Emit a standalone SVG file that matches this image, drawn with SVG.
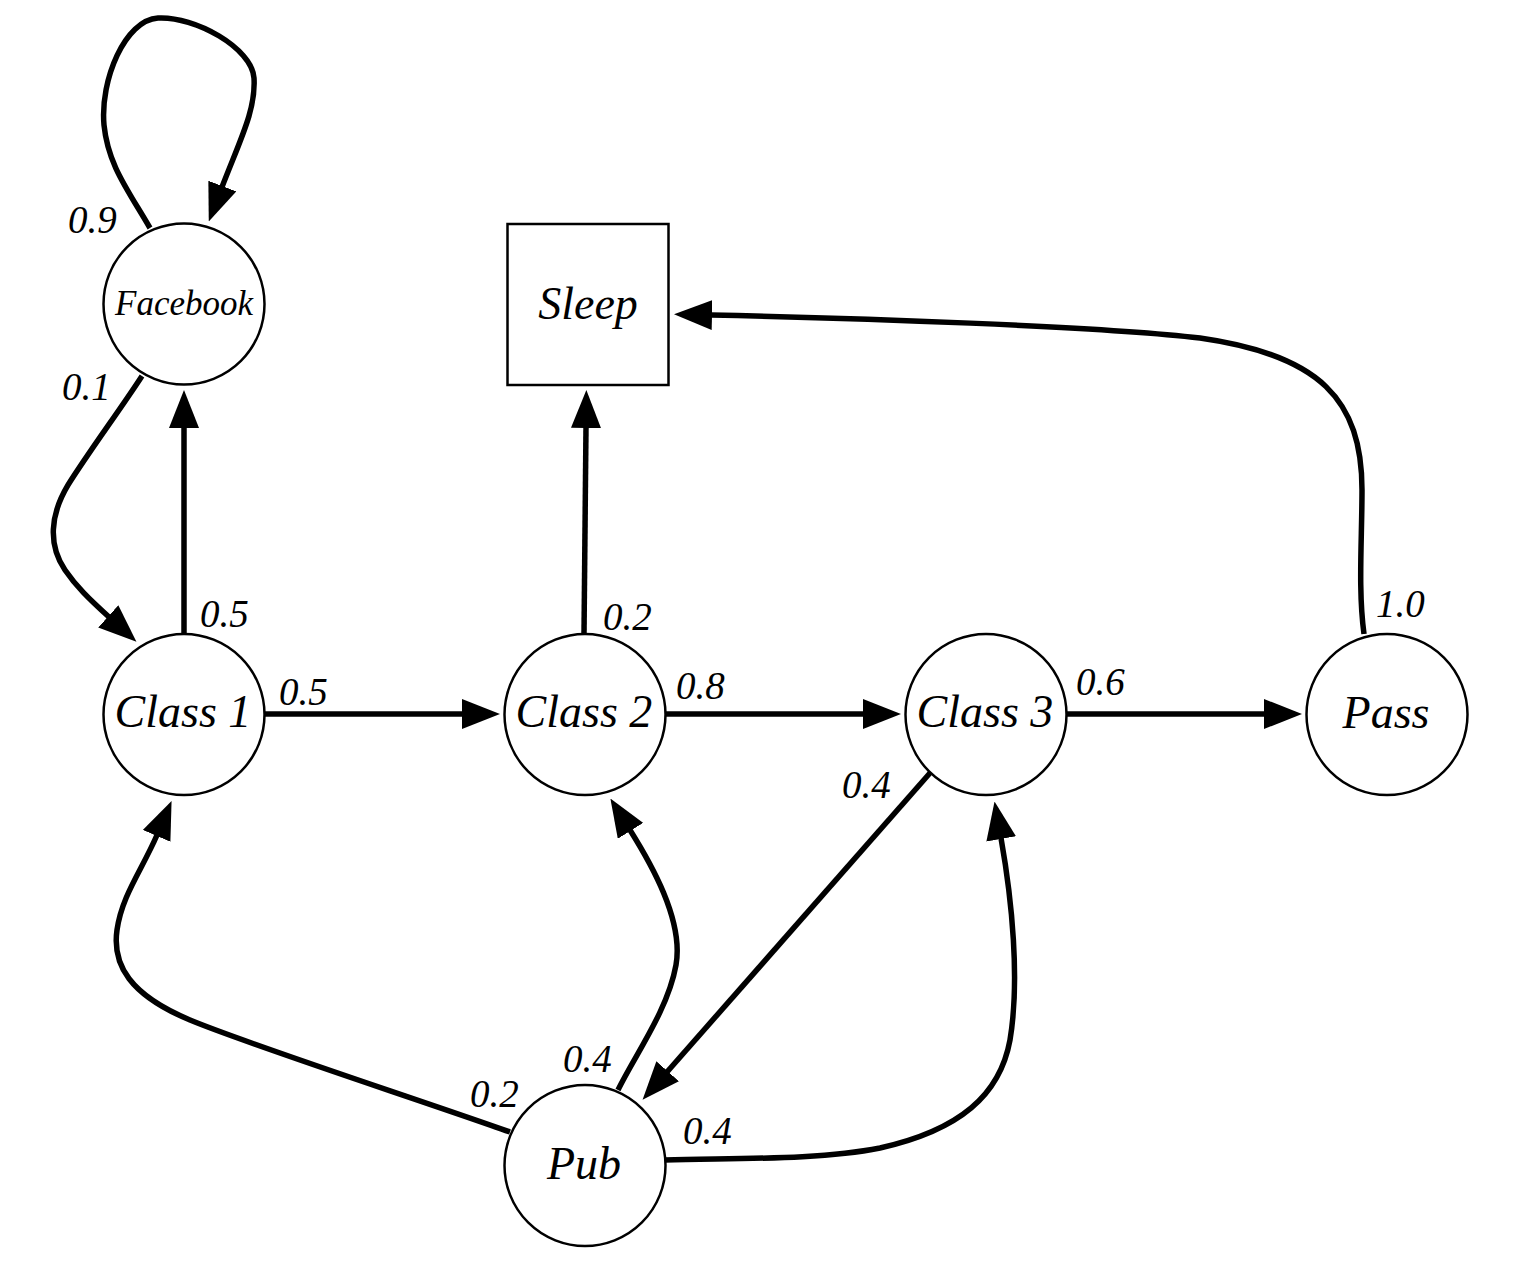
<svg xmlns="http://www.w3.org/2000/svg" width="1538" height="1280" viewBox="0 0 1538 1280">
<style>
.node{fill:#fff;stroke:#000;stroke-width:2.5}
.lbl{font-family:'Liberation Serif','DejaVu Serif',serif;font-style:italic;font-size:46px;text-anchor:middle;fill:#000}
.edge{fill:none;stroke:#000;stroke-width:5.5;marker-end:url(#ah)}
.el{font-family:'Liberation Serif','DejaVu Serif',serif;font-style:italic;font-size:39px;fill:#000}
</style>
<defs>
<marker id="ah" markerUnits="userSpaceOnUse" viewBox="0 0 38 30" markerWidth="38" markerHeight="30" refX="1" refY="15" orient="auto">
<path d="M0,0 L38,15 L0,30 z" fill="#000"/>
</marker>
</defs>
<rect width="1538" height="1280" fill="#fff"/>
<g id="connectors">
<path class="edge" d="M150,228 C128,190 108,165 104,125 C100,80 125,20 158,18 C195,16 252,48 254,78 C256,110 240,140 222,187"/>
<path class="edge" d="M142,376 C120,410 90,450 68,485 C50,515 48,545 65,570 C76,586 88,598 109,617"/>
<path class="edge" d="M184,634 L184,427"/>
<path class="edge" d="M584,634 L586,427"/>
<path class="edge" d="M1364,634 C1358,590 1362,540 1362,490 C1362,400 1320,355 1200,338 C1100,326 850,318 711,315"/>
<path class="edge" d="M265,714 L463,714"/>
<path class="edge" d="M666,714 L864,714"/>
<path class="edge" d="M1067,714 L1265,714"/>
<path class="edge" d="M930,773 L667,1072"/>
<path class="edge" d="M510,1132 C420,1100 250,1045 190,1020 C130,995 112,965 117,930 C122,895 142,870 157,835"/>
<path class="edge" d="M618,1090 C635,1055 668,1010 676,965 C684,920 650,862 630,830"/>
<path class="edge" d="M665,1160 C740,1158 820,1160 880,1148 C960,1130 1000,1095 1010,1040 C1020,980 1012,900 1001,838"/>
</g>
<g id="edge-labels">
<text class="el" x="68" y="233">0.9</text>
<text class="el" x="62" y="400">0.1</text>
<text class="el" x="200" y="627">0.5</text>
<text class="el" x="279" y="705">0.5</text>
<text class="el" x="603" y="630">0.2</text>
<text class="el" x="676" y="699">0.8</text>
<text class="el" x="842" y="798">0.4</text>
<text class="el" x="1076" y="695">0.6</text>
<text class="el" x="1376" y="617">1.0</text>
<text class="el" x="470" y="1107">0.2</text>
<text class="el" x="563" y="1072">0.4</text>
<text class="el" x="683" y="1144">0.4</text>
</g>
<g id="facebook"><circle class="node" cx="184" cy="304" r="80.5"/><text class="lbl" x="184" y="315" style="font-size:35px">Facebook</text></g>
<g id="sleep"><rect class="node" x="507.5" y="224" width="161" height="161"/><text class="lbl" x="588" y="319">Sleep</text></g>
<g id="class1"><circle class="node" cx="184" cy="714.5" r="80.5"/><text class="lbl" x="183" y="727">Class 1</text></g>
<g id="class2"><circle class="node" cx="585" cy="714.5" r="80.5"/><text class="lbl" x="584" y="727">Class 2</text></g>
<g id="class3"><circle class="node" cx="986" cy="714.5" r="80.5"/><text class="lbl" x="985" y="727">Class 3</text></g>
<g id="pass"><circle class="node" cx="1387" cy="714.5" r="80.5"/><text class="lbl" x="1386" y="728">Pass</text></g>
<g id="pub"><circle class="node" cx="585" cy="1165.5" r="80.5"/><text class="lbl" x="584" y="1179">Pub</text></g>
</svg>
